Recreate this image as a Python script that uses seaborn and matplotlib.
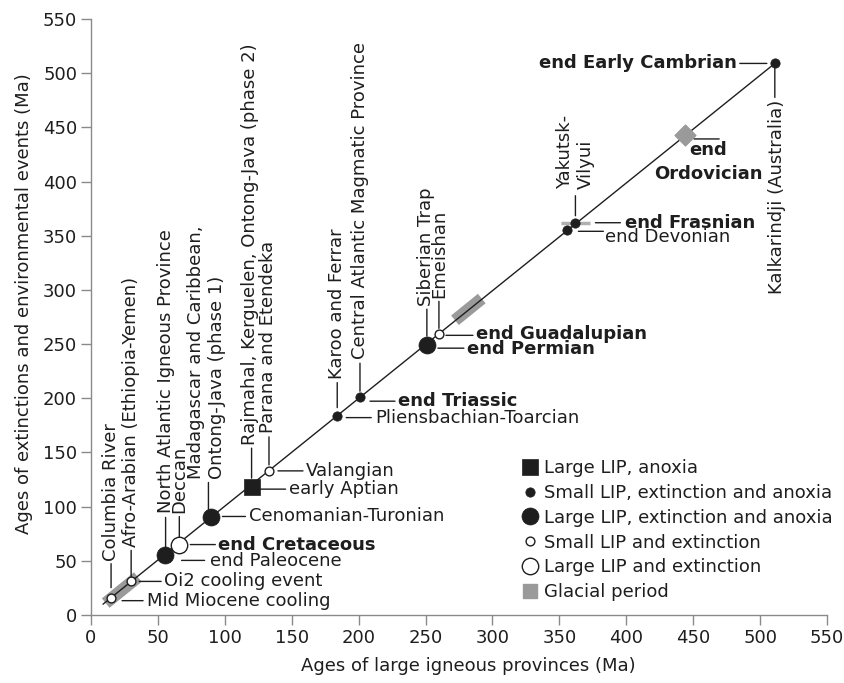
import matplotlib
matplotlib.use("Agg")
import matplotlib.pyplot as plt
import seaborn as sns
import pandas as pd
from matplotlib.transforms import offset_copy
from matplotlib.lines import Line2D

# ---------------- data ----------------
lip_names = ["Columbia River", "Afro-Arabian (Ethiopia-Yemen)", "North Atlantic Igneous Province",
             "Deccan", "Madagascar and Caribbean,\nOntong-Java (phase 1)",
             "Rajmahal, Kerguelen, Ontong-Java (phase 2)", "Parana and Etendeka",
             "Karoo and Ferrar", "Central Atlantic Magmatic Province", "Siberian Trap",
             "Emeishan", "Yakutsk-\nVilyui", "", "Kalkarindji (Australia)"]
event_names = ["Mid Miocene cooling", "Oi2 cooling event", "end Paleocene", "end Cretaceous",
               "Cenomanian-Turonian", "early Aptian", "Valangian", "Pliensbachian-Toarcian",
               "end Triassic", "end Permian", "end Guadalupian", "end Frasnian",
               "end Devonian", "end Early Cambrian"]
lip_age = [15, 30, 55, 66, 90, 120, 133, 184, 201, 251, 260, 362, 356, 511]
event_age = [16, 31, 55, 65, 90, 118, 133, 184, 201, 249, 259, 362, 355, 509]
category = ["Small LIP and extinction", "Small LIP and extinction",
            "Large LIP, extinction and anoxia", "Large LIP and extinction",
            "Large LIP, extinction and anoxia", "Large LIP, anoxia",
            "Small LIP and extinction", "Small LIP, extinction and anoxia",
            "Small LIP, extinction and anoxia", "Large LIP, extinction and anoxia",
            "Small LIP and extinction", "Small LIP, extinction and anoxia",
            "Small LIP, extinction and anoxia", "Small LIP, extinction and anoxia"]
bold_events = ["end Cretaceous", "end Triassic", "end Permian", "end Guadalupian",
               "end Frasnian", "end Ordovician", "end Early Cambrian"]

glacial_diag_start = [11, 272]
glacial_diag_end = [35, 292]
glacial_flat_start = [351]
glacial_flat_end = [373]
glacial_flat_age = [362]
ordovician_lip = [444]
ordovician_event = [443]
ordovician_name = "end\nOrdovician"

ref_line_lip = [9, 511]
ref_line_event = [10, 509]

legend_order = ["Large LIP, anoxia", "Small LIP, extinction and anoxia",
                "Large LIP, extinction and anoxia", "Small LIP and extinction",
                "Large LIP and extinction", "Glacial period"]

df = pd.DataFrame({"lip": lip_age, "event": event_age, "cat": category,
                   "lip_name": lip_names, "event_name": event_names})

# ---------------- style ----------------
sns.set_style("ticks")
plt.rcParams["font.family"] = ["DejaVu Sans"]
INK = "#1e1e1e"
GREY = "#9a9a9a"
FS = 13.0

styles = {
    "Large LIP, anoxia": dict(marker="s", s=120, facecolor=INK, edgecolor=INK, linewidth=0.5),
    "Small LIP, extinction and anoxia": dict(marker="o", s=45, facecolor=INK, edgecolor=INK, linewidth=0.5),
    "Large LIP, extinction and anoxia": dict(marker="o", s=150, facecolor=INK, edgecolor=INK, linewidth=0.5),
    "Small LIP and extinction": dict(marker="o", s=40, facecolor="white", edgecolor=INK, linewidth=1.0),
    "Large LIP and extinction": dict(marker="o", s=140, facecolor="white", edgecolor=INK, linewidth=1.0),
}

fig = plt.figure(figsize=(8.45, 6.83), dpi=100)
ax = fig.add_axes([91 / 845, 1 - 615 / 683, (827 - 91) / 845, (615 - 19) / 683])

# reference 1:1 line
sns.lineplot(x=ref_line_lip, y=ref_line_event, ax=ax, color=INK, lw=1.0, zorder=2)

# glacial periods
for a, b in zip(glacial_diag_start, glacial_diag_end):
    ax.plot([a, b], [a, b], color=GREY, lw=8.8, solid_capstyle="butt", zorder=1)
ax.hlines(glacial_flat_age, glacial_flat_start, glacial_flat_end, color="#b0b0b0", lw=2.5, zorder=1)
sns.scatterplot(x=ordovician_lip, y=ordovician_event, ax=ax, marker="D", s=115,
                color=GREY, edgecolor=GREY, zorder=3)

for cat, st in styles.items():
    sub = df[df["cat"] == cat]
    sns.scatterplot(data=sub, x="lip", y="event", ax=ax, zorder=4, legend=False, **st)

ax.set_xlim(0, 550)
ax.set_ylim(0, 550)
ax.set_xticks(range(0, 551, 50))
ax.set_yticks(range(0, 551, 50))
for sp in ["top", "right"]:
    ax.spines[sp].set_visible(False)
for sp in ["left", "bottom"]:
    ax.spines[sp].set_color("#8a8a8a")
    ax.spines[sp].set_linewidth(1.0)
ax.tick_params(direction="out", length=7, width=1.0, color="#8a8a8a", labelsize=FS,
               labelcolor=INK, pad=3)
ax.set_xlabel("Ages of large igneous provinces (Ma)", fontsize=FS, color=INK)
ax.set_ylabel("Ages of extinctions and environmental events (Ma)", fontsize=FS, color=INK)
ax.xaxis.set_label_coords(0.513, -0.07)
ax.yaxis.set_label_coords(-0.079, 0.523)

PX = 0.72  # points per pixel at 100 dpi


def tr(dx, dy):
    return offset_copy(ax.transData, fig=fig, x=dx * PX, y=-dy * PX, units="points")


def seg(x, y, p1, p2):
    ax.annotate("", xy=(x, y), xycoords=tr(*p1), xytext=(x, y), textcoords=tr(*p2),
                arrowprops=dict(arrowstyle="-", shrinkA=0, shrinkB=0, lw=1.0, color=INK),
                zorder=3)


# vertical labels: (line dx, line dy start, line dy end, text dx, text dy)
vlayout = {0: (0, -10, -34, 0, -37), 1: (0, -5, -31, 0, -34), 2: (1, -8, -38, 1, -42),
           3: (0, -6, -28, 0, -32), 4: (-3, -6, -35, -5, -38), 5: (0, -9, -39, -2, -42),
           6: (0, -6, -34, -1, -38), 7: (0, -8, -33, 0, -37), 8: (0, -6, -34, 0, -38),
           9: (0, -9, -36, -1, -39), 10: (0, -6, -33, 0, -36), 11: (0, -7, -27, 0, -34),
           13: (0, 4, 34, 2, 36)}
# horizontal labels: (line dy, line dx start, line dx end, text dx, text dy)
hlayout = {0: (3, 11, 32, 36, 3), 1: (0, 8, 30, 33, 0), 2: (5, 17, 40, 45, 6),
           3: (0, 11, 36, 39, 0), 4: (-1, 11, 34, 38, -1), 5: (2, 9, 34, 37, 2),
           6: (0, 9, 34, 37, 0), 7: (2, 9, 34, 38, 2), 8: (4, 10, 35, 38, 4),
           9: (3, 11, 37, 40, 4), 10: (1, 7, 34, 37, 0), 11: (0, 20, 45, 50, 0),
           12: (1, 11, 36, 38, 7), 13: (0, -8, -35, -38, 0)}

for i, row in df.iterrows():
    x, y = row["lip"], row["event"]
    if i in vlayout and row["lip_name"]:
        ldx, d1, d2, tdx, tdy = vlayout[i]
        seg(x, y, (ldx, d1), (ldx, d2))
        ax.text(x, y, row["lip_name"], transform=tr(tdx, tdy), rotation=90,
                ha="center", va="top" if tdy > 0 else "bottom", multialignment="left",
                fontsize=FS, color=INK)
    if i in hlayout:
        ldy, a1, a2, tdx, tdy = hlayout[i]
        seg(x, y, (a1, ldy), (a2, ldy))
        name = row["event_name"]
        ax.text(x, y, name, transform=tr(tdx, tdy), ha="right" if tdx < 0 else "left",
                va="center", fontsize=FS, color=INK,
                fontweight="bold" if name in bold_events else "normal")

# end Ordovician
ox, oy = ordovician_lip[0], ordovician_event[0]
seg(ox, oy, (9, 4), (34, 4))
ax.text(ox, oy, ordovician_name, transform=tr(23, 6), ha="center", va="top",
        multialignment="center", fontsize=FS, color=INK, fontweight="bold", linespacing=1.4)

# legend
handles = []
for cat in legend_order:
    if cat == "Glacial period":
        handles.append(Line2D([], [], ls="", marker="s", markersize=10.5,
                              markerfacecolor=GREY, markeredgecolor=GREY))
    else:
        st = styles[cat]
        handles.append(Line2D([], [], ls="", marker=st["marker"], markersize=st["s"] ** 0.5,
                              markerfacecolor=st["facecolor"], markeredgecolor=st["edgecolor"],
                              markeredgewidth=st["linewidth"]))
ax.legend(handles, legend_order, loc="upper left", bbox_to_anchor=(521 / 845, 1 - 459 / 683),
          bbox_transform=fig.transFigure, frameon=False, handlelength=1.0, handletextpad=0.25,
          borderpad=0, borderaxespad=0, labelspacing=0.38, fontsize=FS, labelcolor=INK)

fig.savefig("out.png", dpi=100)
